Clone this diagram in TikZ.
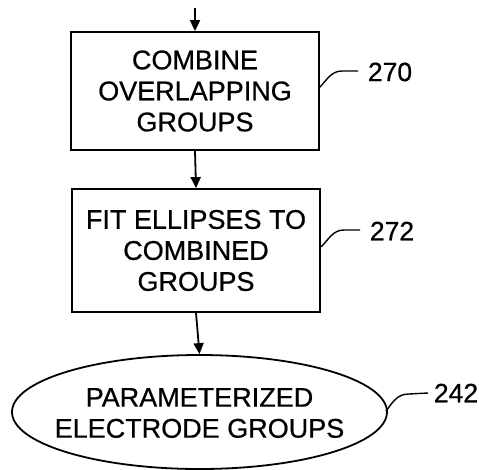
\documentclass[tikz,border=0pt]{standalone}
\usepackage{fontspec}
\setmainfont{Liberation Sans}
\newfontfamily\diagfont{Liberation Sans}[FakeBold=0.6]
\usetikzlibrary{shapes.geometric,arrows.meta}
\begin{document}
\begin{tikzpicture}[x=1pt,y=-1pt,line width=1.8pt,
  box/.style={draw, rectangle, minimum width=248pt, align=center, inner sep=0pt, font=\diagfont\fontsize{27}{31}\selectfont},
  oval/.style={draw, ellipse, minimum width=375pt, minimum height=114pt, inner sep=0pt},
  ovaltext/.style={align=center, inner sep=0pt, font=\diagfont\fontsize{27}{31}\selectfont},
  lbl/.style={anchor=west, inner sep=0pt, font=\diagfont\fontsize{26.5}{30}\selectfont},
  arr/.style={-{Triangle[length=11pt,width=10pt]}},
  leader/.style={line width=1.4pt}]
\useasboundingbox (0,0) rectangle (479,469);
\node[box, minimum height=118pt] (b1) at (195,91) {COMBINE\\OVERLAPPING\\GROUPS};
\node[box, minimum height=123pt] (b2) at (196,250.5) {FIT ELLIPSES TO\\COMBINED\\GROUPS};
\node[oval] (e) at (199.5,412) {};
\node[ovaltext] (et) at (199.5,413) {PARAMETERIZED\\ELECTRODE GROUPS};
\coordinate (top) at (195,8);
\draw[arr] (top) -- (b1.north);
\draw[arr] (b1.south) -- (b2.north);
\draw[arr] (b2.south) -- (e.north);
\node[lbl] (l270) at (367,72) {270};
\node[lbl] (l272) at (369,231) {272};
\node[lbl] (l242) at (433,393) {242};
\coordinate (s270) at (319,88);
\coordinate (s272) at (321,247);
\coordinate (s242) at (386,411);
\coordinate (e270) at (358,71);
\coordinate (e272) at (360,230);
\coordinate (e242) at (428,393);
\draw[leader] (s270) .. controls (327,80) and (331,71) .. (342,71) -- (e270);
\draw[leader] (s272) .. controls (329,239) and (333,230) .. (344,230) -- (e272);
\draw[leader] (s242) .. controls (393,402) and (397,394) .. (409,394) -- (e242);
\end{tikzpicture}
\end{document}
